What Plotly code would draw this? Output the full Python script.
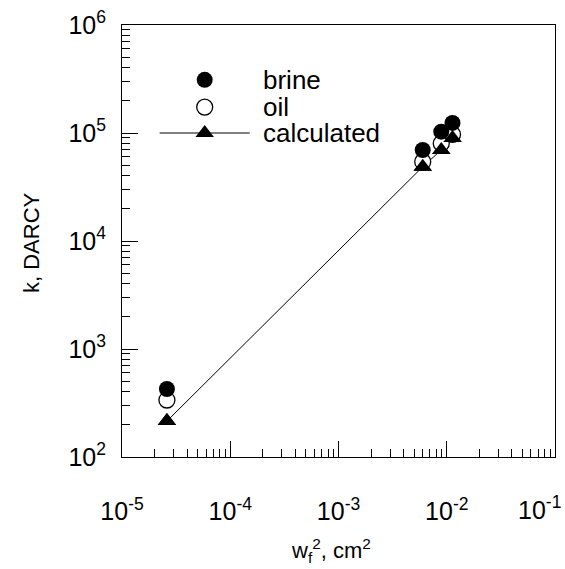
import plotly.graph_objects as go

# ---- data ----
wf2 = [2.6e-5, 6.0e-3, 8.9e-3, 1.13e-2]          # w_f^2, cm^2
k_brine = [426, 69600, 102800, 124000]           # k, DARCY
k_oil = [337, 54200, 80000, 97000]
k_calc = [215, 48700, 69600, 90000]

x_tickvals = [1e-5, 1e-4, 1e-3, 1e-2, 1e-1]
x_ticktext = ["10<sup>-5</sup>", "10<sup>-4</sup>", "10<sup>-3</sup>", "10<sup>-2</sup>", "10<sup>-1</sup>"]
y_tickvals = [1e2, 1e3, 1e4, 1e5, 1e6]
y_ticktext = ["10<sup>2</sup>", "10<sup>3</sup>", "10<sup>4</sup>", "10<sup>5</sup>", "10<sup>6</sup>"]

legend_names = ["brine", "oil", "calculated"]

x_minor = [m * 10.0 ** e for e in range(-5, -1) for m in range(2, 10)]
y_minor = [m * 10.0 ** e for e in range(2, 6) for m in range(2, 10)]

FONT = "Liberation Sans, Arial, sans-serif"
MS = 16

fig = go.Figure()
fig.add_trace(go.Scatter(x=wf2, y=k_calc, mode="lines+markers",
                         line=dict(color="black", width=1),
                         marker=dict(symbol="triangle-up", size=MS, color="black"),
                         showlegend=False))
fig.add_trace(go.Scatter(x=wf2, y=k_oil, mode="markers",
                         marker=dict(symbol="circle", size=MS, color="white",
                                     line=dict(color="black", width=1.3)),
                         showlegend=False))
fig.add_trace(go.Scatter(x=wf2, y=k_brine, mode="markers",
                         marker=dict(symbol="circle", size=MS, color="black"),
                         showlegend=False))
fig.add_trace(go.Scatter(x=wf2, y=k_calc, mode="markers",
                         marker=dict(symbol="triangle-up", size=MS, color="black"),
                         showlegend=False))

# ---- hand-made legend on an overlay axis (0..1) ----
lx, lrows = 0.191, [0.873, 0.810, 0.750]
fig.add_trace(go.Scatter(x=[lx], y=[lrows[0]], xaxis="x2", yaxis="y2", mode="markers",
                         marker=dict(symbol="circle", size=MS, color="black"), showlegend=False))
fig.add_trace(go.Scatter(x=[lx], y=[lrows[1]], xaxis="x2", yaxis="y2", mode="markers",
                         marker=dict(symbol="circle", size=MS, color="white",
                                     line=dict(color="black", width=1.3)), showlegend=False))
fig.add_trace(go.Scatter(x=[0.087, 0.295], y=[lrows[2], lrows[2]], xaxis="x2", yaxis="y2",
                         mode="lines", line=dict(color="black", width=1), showlegend=False))
fig.add_trace(go.Scatter(x=[lx], y=[lrows[2]], xaxis="x2", yaxis="y2", mode="markers",
                         marker=dict(symbol="triangle-up", size=MS, color="black"), showlegend=False))
for name, yy in zip(legend_names, lrows):
    fig.add_annotation(x=0.32, y=yy, xref="x2", yref="y2", text=name, showarrow=False,
                       xanchor="left", yanchor="middle",
                       font=dict(family=FONT, size=26, color="black"))

axis_common = dict(showline=True, linecolor="black", linewidth=1, mirror=True,
                   showgrid=False, zeroline=False, ticks="inside", tickcolor="black",
                   ticklen=16, tickwidth=1, automargin=False, ticklabeloverflow="allow",
                   tickfont=dict(family=FONT, size=25, color="black"))

# last x label is placed as an annotation so it stays inside the picture
x_axis_text = x_ticktext[:-1] + [""]

fig.update_layout(
    width=565, height=569,
    margin=dict(l=122, r=10, t=25, b=112),
    paper_bgcolor="white", plot_bgcolor="white",
    showlegend=False,
    xaxis=dict(type="log", range=[-5, -1], tickvals=x_tickvals, ticktext=x_axis_text,
               ticklabelstandoff=32,
               minor=dict(ticks="inside", ticklen=8, tickcolor="black", tickvals=x_minor),
               **axis_common),
    yaxis=dict(type="log", range=[2, 6], tickvals=y_tickvals, ticktext=y_ticktext,
               ticklabelstandoff=10,
               minor=dict(ticks="inside", ticklen=8, tickcolor="black", tickvals=y_minor),
               **axis_common),
    xaxis2=dict(overlaying="x", range=[0, 1], visible=False, fixedrange=True),
    yaxis2=dict(overlaying="y", range=[0, 1], visible=False, fixedrange=True),
)

fig.add_annotation(x=(563 - 122) / 433, y=-(508 - 457) / 432, xref="paper", yref="paper",
                   text=x_ticktext[-1], showarrow=False,
                   xanchor="right", yanchor="middle",
                   font=dict(family=FONT, size=25, color="black"))
fig.add_annotation(x=(331 - 122) / 433, y=-(550 - 457) / 432, xref="paper", yref="paper",
                   text="w<sub>f</sub><sup>2</sup>, cm<sup>2</sup>", showarrow=False,
                   xanchor="center", yanchor="middle",
                   font=dict(family=FONT, size=22, color="black"))
fig.add_annotation(x=-(122 - 31) / 433, y=(457 - 243) / 432, xref="paper", yref="paper",
                   text="k, DARCY", showarrow=False, textangle=-90,
                   xanchor="center", yanchor="middle",
                   font=dict(family=FONT, size=22, color="black"))

fig.write_html("out.html")
